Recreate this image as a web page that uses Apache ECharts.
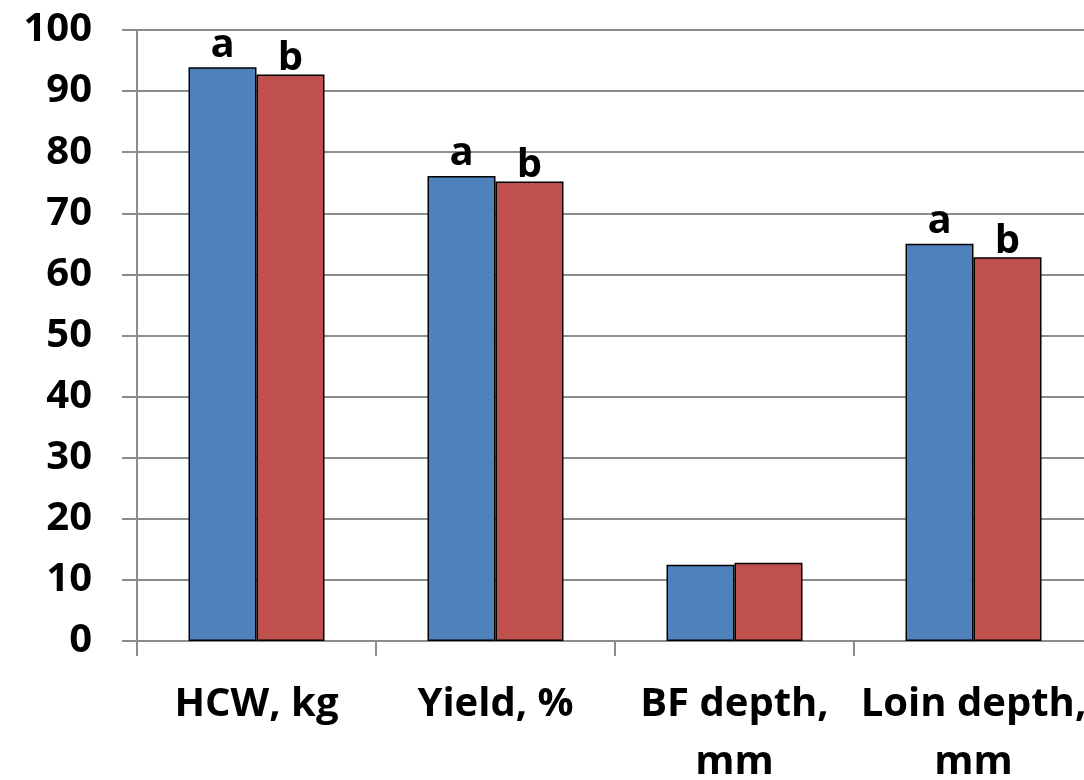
<!DOCTYPE html>
<html>
<head>
<meta charset="utf-8">
<style>
  html, body { margin: 0; padding: 0; background: #ffffff; }
  #chart { width: 1084px; height: 780px; }
</style>
<script src="https://cdn.jsdelivr.net/npm/echarts@6/dist/echarts.min.js"></script>
</head>
<body>
<div id="chart"></div>
<script>
// Carcass traits, two groups
var categories = ['HCW, kg', 'Yield, %', 'BF depth,\nmm', 'Loin depth,\nmm'];
var group1Values = [93.9, 76.1, 12.5, 65.0];
var group2Values = [92.7, 75.2, 12.8, 62.8];
// Significance letters above each bar ('' = none)
var group1Letters = ['a', 'a', '', 'a'];
var group2Letters = ['b', 'b', '', 'b'];
var yTicks = [0, 10, 20, 30, 40, 50, 60, 70, 80, 90, 100];

var FONT = '"Open Sans", "DejaVu Sans", sans-serif';
var WEIGHT = 'bold';
var AXIS_GRAY = '#8c8c8c';

function barData(values, letters, distance) {
  return values.map(function (v, i) {
    return {
      value: v,
      label: {
        show: letters[i] !== '',
        position: 'top',
        distance: distance,
        formatter: letters[i],
        color: '#000',
        fontFamily: FONT,
        fontWeight: WEIGHT,
        fontSize: 40,
        lineHeight: 40
      }
    };
  });
}

var chart = echarts.init(document.getElementById('chart'), null, { renderer: 'canvas' });
chart.setOption({
  animation: false,
  backgroundColor: '#ffffff',
  grid: {
    left: 137, top: 30, width: 956, height: 611,
    containLabel: false,
    outerBoundsMode: 'none'
  },
  xAxis: {
    type: 'category',
    data: categories,
    axisLine: { show: true, lineStyle: { color: AXIS_GRAY, width: 2 } },
    axisTick: { show: true, length: 15, lineStyle: { color: AXIS_GRAY, width: 2 } },
    axisLabel: {
      margin: 35,
      color: '#000',
      fontFamily: FONT,
      fontWeight: WEIGHT,
      fontSize: 40,
      lineHeight: 58,
      interval: 0
    }
  },
  yAxis: {
    type: 'value',
    min: yTicks[0],
    max: yTicks[yTicks.length - 1],
    interval: 10,
    axisLine: { show: true, lineStyle: { color: AXIS_GRAY, width: 2 } },
    axisTick: { show: true, length: 15, lineStyle: { color: AXIS_GRAY, width: 2 } },
    splitLine: { show: true, lineStyle: { color: AXIS_GRAY, width: 2 } },
    axisLabel: {
      margin: 45,
      color: '#000',
      fontFamily: FONT,
      fontWeight: WEIGHT,
      fontSize: 40
    }
  },
  series: [
    {
      name: 'Group 1',
      type: 'bar',
      barWidth: 68,
      barGap: '0%',
      itemStyle: { color: '#4f81bd', borderColor: '#000', borderWidth: 1.5 },
      data: barData(group1Values, group1Letters, 2)
    },
    {
      name: 'Group 2',
      type: 'bar',
      barWidth: 68,
      barGap: '0%',
      itemStyle: { color: '#c0504d', borderColor: '#000', borderWidth: 1.5 },
      data: barData(group2Values, group2Letters, -4)
    }
  ]
});
</script>
</body>
</html>
